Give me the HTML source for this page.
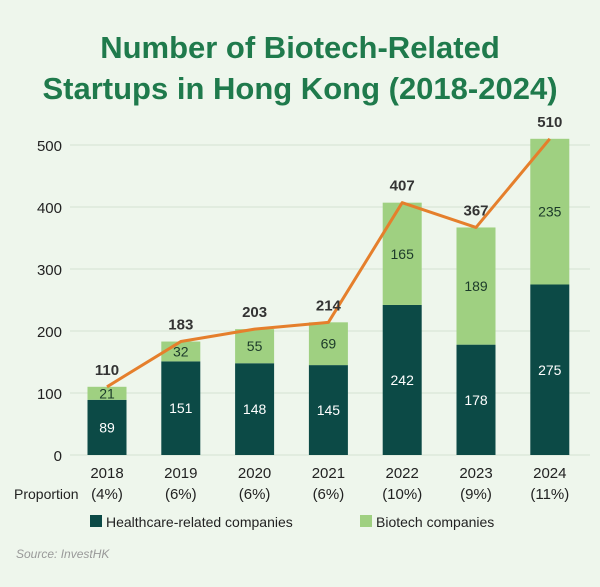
<!DOCTYPE html>
<html><head><meta charset="utf-8"><style>
html,body{margin:0;padding:0;}
body{width:600px;height:582px;background:#eef6ec;font-family:"Liberation Sans",sans-serif;overflow:hidden;}
</style></head><body>
<svg width="600" height="582" xmlns="http://www.w3.org/2000/svg">
<rect x="0" y="0" width="600" height="582" fill="#eef6ec"/>
<text x="300" y="58" text-anchor="middle" font-size="31" font-weight="bold" fill="#1f7a4c">Number of Biotech-Related</text>
<text x="300" y="99" text-anchor="middle" font-size="31" font-weight="bold" fill="#1f7a4c">Startups in Hong Kong (2018-2024)</text>
<g id="grid"></g><g id="bars"></g><g id="line"></g><g id="labels"></g>
<rect x="90" y="515" width="12" height="12" fill="#0c4a46"/>
<text x="106" y="527" font-size="14" fill="#222">Healthcare-related companies</text>
<rect x="360" y="515" width="12" height="12" fill="#9fd081"/>
<text x="376" y="527" font-size="14" fill="#222">Biotech companies</text>
<text x="16" y="558" font-size="12" font-style="italic" fill="#999">Source: InvestHK</text>
<text x="14" y="499" font-size="14" fill="#222">Proportion</text>
</svg>
<script>
const years=["2018","2019","2020","2021","2022","2023","2024"];
const healthcare=[89,151,148,145,242,178,275];
const biotech=[21,32,55,69,165,189,235];
const totals=[110,183,203,214,407,367,510];
const proportions=["(4%)","(6%)","(6%)","(6%)","(10%)","(9%)","(11%)"];
const yTicks=[0,100,200,300,400,500];
const NS="http://www.w3.org/2000/svg";
const y0=455,pxPer=0.62,x0=107,step=73.8,bw=39;
const Y=v=>y0-v*pxPer, X=i=>x0+i*step;
function mk(t,a,p,txt){const e=document.createElementNS(NS,t);for(const k in a)e.setAttribute(k,a[k]);if(txt!==undefined)e.textContent=txt;p.appendChild(e);return e;}
const grid=document.getElementById('grid'),bars=document.getElementById('bars'),line=document.getElementById('line'),labels=document.getElementById('labels');
yTicks.forEach(t=>{
 const l=mk('line',{x1:70,x2:590,y1:Y(t),y2:Y(t),stroke:'#d4e3d2','stroke-width':1},grid);
 
 
 const tx=mk('text',{x:62,y:Y(t)+6,'text-anchor':'end','font-size':15,fill:'#222'},grid,t);
 
 
});
years.forEach((yr,i)=>{
 const cx=X(i);
 const h=mk('rect',{x:cx-bw/2,y:Y(healthcare[i]),width:bw,height:healthcare[i]*pxPer,fill:'#0c4a46'},bars);
 
 
 const b=mk('rect',{x:cx-bw/2,y:Y(healthcare[i]+biotech[i]),width:bw,height:biotech[i]*pxPer,fill:'#9fd081'},bars);
 
 
 const hl=mk('text',{x:cx,y:Y(healthcare[i]/2)+5,'text-anchor':'middle','font-size':14,fill:'#fff'},labels,healthcare[i]);
 
 
 const bl=mk('text',{x:cx,y:Y(healthcare[i]+biotech[i]/2)+5,'text-anchor':'middle','font-size':14,fill:'#1c3a2a'},labels,biotech[i]);
 
 
 const tl=mk('text',{x:cx,y:Y(totals[i])-12,'text-anchor':'middle','font-size':15,'font-weight':'bold',fill:'#333'},labels,totals[i]);
 
 
 const xl=mk('text',{x:cx,y:478,'text-anchor':'middle','font-size':15,fill:'#222'},labels,yr);
 
 
 const pl=mk('text',{x:cx,y:499,'text-anchor':'middle','font-size':15,fill:'#222'},labels,proportions[i]);
 
 
});
const pts=totals.map((v,i)=>X(i)+','+Y(v)).join(' ');
const pl=mk('polyline',{points:pts,fill:'none',stroke:'#e57f2c','stroke-width':3,'stroke-linejoin':'round'},line);


</script>
</body></html>
